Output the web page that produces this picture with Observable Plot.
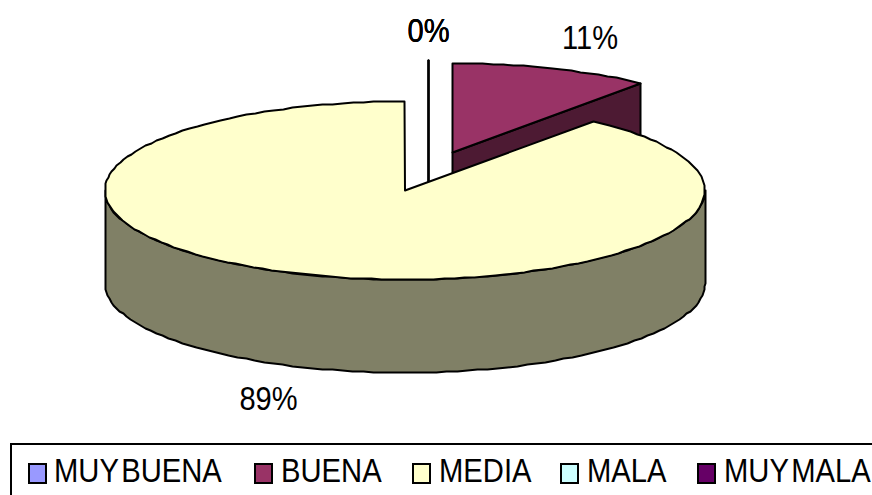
<!DOCTYPE html>
<html>
<head>
<meta charset="utf-8">
<script src="https://cdn.jsdelivr.net/npm/d3@7"></script>
<script src="https://cdn.jsdelivr.net/npm/@observablehq/plot@0.6"></script>
<style>
html,body{margin:0;padding:0;background:#fff;overflow:hidden;width:872px;height:495px}
svg{display:block}
#legend{position:absolute;left:10px;top:443px;width:900px;height:80px;border:2px solid #000;box-sizing:border-box;font-family:"Liberation Sans",Arial,sans-serif;font-size:33px;color:#000}
#legend .sw{position:absolute;top:18px;width:15px;height:17px;border:2px solid #000;}
#legend .tx{position:absolute;top:8px;line-height:36px;white-space:nowrap;word-spacing:-6px;transform:scaleX(.885);transform-origin:left center}
</style>
</head>
<body>
<div id="chart"></div>
<div id="legend"></div>
<script>
// Data
const categories = ["MUY BUENA", "BUENA", "MEDIA", "MALA", "MUY MALA"];
const values = [0, 10.8, 89.2, 0, 0];
const colors = ["#9999FF", "#993366", "#FFFFCC", "#CCFFFF", "#660066"];
const sideColors = ["#4d4d80", "#4d1a33", "#808066", "#668080", "#330033"];

// Layout of the pie, in scale units
const center = [404.5, 190], rx = 300, ry = 89, depth = 93;
const explode = [[23.5, -41], [47.5, -38], [0, 0], [23.5, -41], [23.5, -41]];
const labelPos = [[428, 41], [589.5, 48], [268, 409], [428, 41], [428, 41]];
const legendSwatchX = [16, 242, 400, 548, 685];
const legendTextX = [42, 269, 427, 575, 712];

const total = d3.sum(values);
let acc = 0;
const slices = categories.map((name, i) => {
  const a0 = acc / total * 2 * Math.PI;
  acc += values[i];
  const a1 = acc / total * 2 * Math.PI;
  return {name, i, a0, a1, value: values[i], cx: center[0] + explode[i][0], cy: center[1] + explode[i][1]};
});
const rim = (s, a, dz = 0) => ({
  x: Math.round(s.cx + rx * Math.sin(a)),
  y: Math.round(s.cy - ry * Math.cos(a) + dz)
});
const arc = (s, a0, a1, dz = 0) => {
  const n = Math.max(1, Math.ceil(Math.abs(a1 - a0) / (Math.PI / 90)));
  return d3.range(n + 1).map(k => rim(s, a0 + (a1 - a0) * k / n, dz));
};
const apex = (s, dz = 0) => ({x: s.cx, y: s.cy + dz});
const topFace = s => [apex(s), ...arc(s, s.a0, s.a1), apex(s)];
const cutFace = s => [apex(s), rim(s, s.a1), rim(s, s.a1, depth), apex(s, depth), apex(s)];
const wall = s => {
  const a0 = Math.max(s.a0, Math.PI / 2), a1 = Math.min(s.a1, 3 * Math.PI / 2);
  return a1 <= a0 ? [] : [...arc(s, a0, a1), ...arc(s, a1, a0, depth), rim(s, a0)];
};

const lw = 2;
const poly = (pts, fill) => Plot.line(pts, {x: "x", y: "y", fill, stroke: "#000", strokeWidth: lw, strokeLinejoin: "round", curve: "linear"});

const back = slices.filter(s => s.value === 0);
const buena = slices[1], media = slices[2];

const marks = [
  ...back.map(s => Plot.line([rim(s, 0), apex(s), apex(s, depth)], {x: "x", y: "y", stroke: "#000", strokeWidth: lw})),
  poly(cutFace(buena), sideColors[1]),
  poly(topFace(buena), colors[1]),
  poly(wall(media), sideColors[2]),
  poly(topFace(media), colors[2]),
  Plot.text(slices, {
    x: s => labelPos[s.i][0], y: s => labelPos[s.i][1],
    text: s => Math.round(s.value) + "%",
    fontSize: 33, fill: "#000", textAnchor: "middle", lineAnchor: "bottom",
    fontFamily: "Liberation Sans, Arial, sans-serif"
  })
];

const chart = Plot.plot({
  width: 872, height: 443,
  margin: 0,
  x: {domain: [0, 872], range: [0, 872], axis: null},
  y: {domain: [443, 0], range: [443, 0], axis: null},
  marks
});
chart.style.background = "#fff";
document.getElementById("chart").append(chart);
// The reference's labels are slightly condensed
chart.querySelectorAll("text").forEach(t => {
  t.setAttribute("textLength", (t.getComputedTextLength() * 0.88).toFixed(1));
  t.setAttribute("lengthAdjust", "spacingAndGlyphs");
});

const legend = document.getElementById("legend");
categories.forEach((name, i) => {
  const sw = document.createElement("div");
  sw.className = "sw"; sw.style.left = legendSwatchX[i] + "px"; sw.style.background = colors[i];
  const tx = document.createElement("div");
  tx.className = "tx"; tx.style.left = legendTextX[i] + "px"; tx.textContent = name;
  legend.append(sw, tx);
});
</script>
</body>
</html>
